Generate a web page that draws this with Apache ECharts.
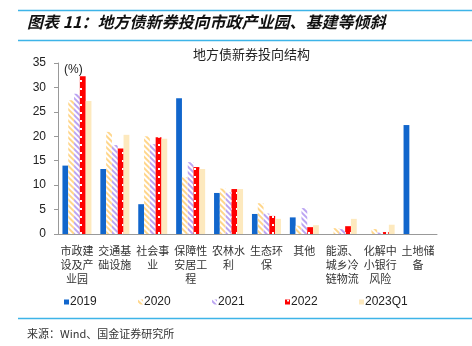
<!DOCTYPE html>
<html><head><meta charset="utf-8">
<script src="https://cdn.jsdelivr.net/npm/echarts@6/dist/echarts.min.js"></script>
<style>html,body{margin:0;padding:0;background:#fff}#c{width:472px;height:346px}</style>
</head><body><div id="c"></div>
<script>
var categories = ['市政建\n设及产\n业园','交通基\n础设施','社会事\n业','保障性\n安居工\n程','农林水\n利','生态环\n保','其他','能源、\n城乡冷\n链物流','化解中\n小银行\n风险','土地储\n备'];
var yTicks = [0,5,10,15,20,25,30,35];
var s2019 = [14.0,13.3,6.1,27.8,8.4,4.1,3.4,0,0,22.3];
var s2020 = [27.4,20.9,20.0,11.6,9.3,6.3,1.7,1.2,1.0,0];
var s2021 = [28.7,18.2,18.4,14.7,8.5,4.2,5.3,1.0,0.3,0];
var s2022 = [32.3,17.5,19.8,13.7,9.2,3.7,1.4,1.6,0.4,0];
var s2023 = [27.2,20.3,19.5,13.3,9.2,3.1,1.8,3.1,1.9,0];
var seriesNames = ['2019','2020','2021','2022','2023Q1'];

var chart = echarts.init(document.getElementById('c'));
var FONT_CJK = '"Noto Sans CJK SC", sans-serif';
var FONT_NUM = '"Liberation Sans", Arial, sans-serif';
var stripe = function(c){ return {symbol:'rect', color:c, dashArrayX:[1,0], dashArrayY:[2,2], rotation:Math.PI/4, symbolSize:1}; };
var styles = [
  {color:'#1166CC'},
  {color:'#FFFFFF', decal: stripe('#FFD68A')},
  {color:'#FFFFFF', decal: stripe('#BBA4F2')},
  {color:'#FF0000', decal: {symbol:'rect', color:'#FFFFFF', dashArrayX:[[0,2,2,2]], dashArrayY:[1.5,6], symbolSize:1}},
  {color:'#FDE9BE'}
];
var data = [s2019,s2020,s2021,s2022,s2023];
var series = seriesNames.map(function(n,i){
  return {name:n, type:'bar', data:data[i], barWidth:5.8, barGap:'0%', itemStyle:styles[i], animation:false};
});
var legendLeft = [64,138,212,285,359];
var legends = seriesNames.map(function(n,i){
  return {data:[n], left:legendLeft[i], top:296, itemWidth:5, itemHeight:5, icon:'rect', padding:0,
    textStyle:{fontFamily:FONT_NUM, fontSize:12, color:'#222', padding:[0,0,0,-4]}};
});
chart.setOption({
  animation:false,
  textStyle:{fontFamily:FONT_CJK},
  legend: legends,
  grid:{left:58, right:35, top:63, bottom:112, containLabel:false},
  xAxis:{type:'category', data:categories,
    axisLine:{lineStyle:{color:'#999'}}, axisTick:{length:5, lineStyle:{color:'#999'}},
    axisLabel:{interval:0, fontSize:11, lineHeight:14, color:'#333', margin:10, fontFamily:FONT_CJK}},
  yAxis:{type:'value', min:yTicks[0], max:yTicks[yTicks.length-1], interval:5,
    axisLine:{show:true, lineStyle:{color:'#999'}}, axisTick:{show:true, length:4, lineStyle:{color:'#999'}},
    splitLine:{show:false},
    axisLabel:{fontSize:12, color:'#222', margin:12, fontFamily:FONT_NUM}},
  graphic:[
    {type:'line', shape:{x1:18,y1:10.5,x2:472,y2:10.5}, style:{stroke:'#3DB4E8', lineWidth:1.5}},
    {type:'text', left:27, top:14, style:{text:'图表 11：地方债新券投向市政产业园、基建等倾斜', font:'italic bold 16px "Noto Sans CJK SC", sans-serif', fill:'#111'}},
    {type:'line', shape:{x1:18,y1:40.5,x2:472,y2:40.5}, style:{stroke:'#3DB4E8', lineWidth:1.5}},
    {type:'text', left:193, top:48, style:{text:'地方债新券投向结构', font:'13px "Noto Sans CJK SC", sans-serif', fill:'#222'}},
    {type:'text', left:64, top:64, style:{text:'(%)', font:'12px "Liberation Sans", Arial, sans-serif', fill:'#222'}},
    {type:'line', shape:{x1:18,y1:318.5,x2:472,y2:318.5}, style:{stroke:'#3DB4E8', lineWidth:1.5}},
    {type:'text', left:27, top:328, style:{text:'来源：Wind、国金证券研究所', font:'11px "Noto Sans CJK SC", sans-serif', fill:'#333'}}
  ],
  series: series
});
</script></body></html>
